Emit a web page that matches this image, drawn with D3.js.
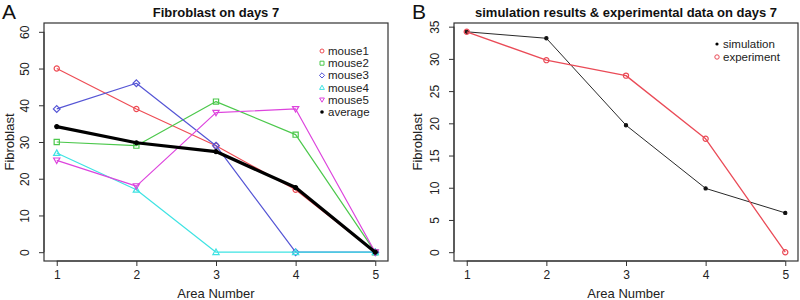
<!DOCTYPE html>
<html>
<head>
<meta charset="utf-8">
<script src="https://cdn.jsdelivr.net/npm/d3@7"></script>
<style>
  body { margin: 0; background: #fff; }
  svg { display: block; font-family: "Liberation Sans", Arial, sans-serif; }
</style>
</head>
<body>
<svg id="chart" width="800" height="300"></svg>
<script>
/* Two R-style panels: A = mouse counts per area, B = simulation vs experiment */
var areas = [1, 2, 3, 4, 5];

var mouse1 = [50, 39, 29, 17, 0];
var mouse2 = [30, 29, 41, 32, 0];
var mouse3 = [39, 46, 29, 0, 0];
var mouse4 = [27, 17, 0, 0, 0];
var mouse5 = [25, 18, 38, 39, 0];
var average = [34.2, 29.8, 27.4, 17.6, 0];

var simulation = [34.2, 33.2, 19.7, 9.9, 6.1];
var experiment = [34.2, 29.8, 27.4, 17.6, 0];

var ticksA = [0, 10, 20, 30, 40, 50, 60];
var ticksB = [0, 5, 10, 15, 20, 25, 30, 35];

var mice = [
  { name: 'mouse1', values: mouse1, color: '#ee4d55', shape: 'circle' },
  { name: 'mouse2', values: mouse2, color: '#4cc84c', shape: 'square' },
  { name: 'mouse3', values: mouse3, color: '#5555d5', shape: 'diamond' },
  { name: 'mouse4', values: mouse4, color: '#3fe3e3', shape: 'triUp' },
  { name: 'mouse5', values: mouse5, color: '#dd44dd', shape: 'triDown' }
];

var svg = d3.select('#chart');

// R pch-like symbol paths centred at 0,0
function symbolPath(shape, s) {
  s = s || 3;
  if (shape === 'circle') return 'M' + s + ',0A' + s + ',' + s + ' 0 1,1 ' + (-s) + ',0A' + s + ',' + s + ' 0 1,1 ' + s + ',0Z';
  if (shape === 'square') return 'M' + (-s) + ',' + (-s) + 'H' + s + 'V' + s + 'H' + (-s) + 'Z';
  if (shape === 'diamond') { var d = s * 1.3; return 'M0,' + (-d) + 'L' + d + ',0L0,' + d + 'L' + (-d) + ',0Z'; }
  if (shape === 'triUp') { var t = s * 1.2; return 'M0,' + (-t) + 'L' + t + ',' + (t * 0.75) + 'L' + (-t) + ',' + (t * 0.75) + 'Z'; }
  if (shape === 'triDown') { var u = s * 1.2; return 'M0,' + u + 'L' + u + ',' + (-u * 0.75) + 'L' + (-u) + ',' + (-u * 0.75) + 'Z'; }
  return '';
}

function drawPanel(opt) {
  var g = svg.append('g');
  var x = d3.scaleLinear().domain([0.84, 5.16]).range([opt.left, opt.right]);
  var yMax = opt.yMax, ext = yMax * 0.04;
  var y = d3.scaleLinear().domain([-ext, yMax + ext]).range([261, 23]);

  // box
  g.append('rect')
    .attr('x', opt.left).attr('y', 23)
    .attr('width', opt.right - opt.left).attr('height', 238)
    .attr('fill', 'none').attr('stroke', '#333').attr('stroke-width', 1.2);

  // x axis
  var xa = g.append('g').attr('transform', 'translate(0,261)')
    .call(d3.axisBottom(x).tickValues(areas).tickSize(5).tickPadding(4).tickFormat(d3.format('d')));
  xa.select('.domain').attr('d', 'M' + x(1) + ',0H' + x(5)).attr('stroke', '#333');
  xa.selectAll('line').attr('stroke', '#333');
  xa.selectAll('text').attr('font-size', 12).attr('fill', '#222')
    .attr('font-family', '"Liberation Sans", Arial, sans-serif');

  // y axis with rotated labels
  var ya = g.append('g').attr('transform', 'translate(' + opt.left + ',0)')
    .call(d3.axisLeft(y).tickValues(opt.ticks).tickSize(5).tickFormat(d3.format('d')));
  ya.select('.domain').attr('d', 'M0,' + y(0) + 'V' + y(opt.ticks[opt.ticks.length - 1])).attr('stroke', '#333');
  ya.selectAll('line').attr('stroke', '#333');
  ya.selectAll('text').attr('font-size', 12).attr('fill', '#222')
    .attr('font-family', '"Liberation Sans", Arial, sans-serif')
    .attr('x', null).attr('dy', null)
    .attr('text-anchor', 'middle')
    .attr('transform', 'translate(-15,0) rotate(-90)')
    .attr('y', 0);

  // titles
  g.append('text').attr('x', (opt.left + opt.right) / 2).attr('y', 17)
    .attr('text-anchor', 'middle').attr('font-size', 13).attr('font-weight', 'bold')
    .attr('fill', '#111').text(opt.title);
  g.append('text').attr('x', (opt.left + opt.right) / 2).attr('y', 298)
    .attr('text-anchor', 'middle').attr('font-size', 13).attr('fill', '#222').text('Area Number');
  g.append('text').attr('transform', 'translate(' + opt.ylabX + ',142) rotate(-90)')
    .attr('text-anchor', 'middle').attr('font-size', 13).attr('fill', '#222').text('Fibroblast');
  g.append('text').attr('x', opt.letterX).attr('y', 19)
    .attr('font-size', 21).attr('fill', '#111').text(opt.letter);

  return { g: g, x: x, y: y };
}

function drawSeries(p, values, color, width, shape, size, filled) {
  var line = d3.line().x(function (d, i) { return p.x(areas[i]); }).y(function (d) { return p.y(d); });
  p.g.append('path').datum(values).attr('d', line)
    .attr('fill', 'none').attr('stroke', color).attr('stroke-width', width)
    .attr('stroke-linejoin', 'round');
  p.g.selectAll(null).data(values).enter().append('path')
    .attr('transform', function (d, i) { return 'translate(' + p.x(areas[i]) + ',' + p.y(d) + ')'; })
    .attr('d', symbolPath(shape, size))
    .attr('fill', filled ? color : 'none')
    .attr('stroke', color).attr('stroke-width', 1.2);
}

/* ---- Panel A ---- */
var pA = drawPanel({ left: 44, right: 388, yMax: 60, ticks: ticksA,
  title: 'Fibroblast on days 7', ylabX: 14, letter: 'A', letterX: 2 });

mice.forEach(function (m) { drawSeries(pA, m.values, m.color, 1.2, m.shape, 2.6, false); });
drawSeries(pA, average, '#000', 3.2, 'circle', 2, true);

var legA = pA.g.append('g');
mice.concat([{ name: 'average', color: '#000', shape: 'dot' }]).forEach(function (m, i) {
  var yy = 51 + i * 12.2;
  if (m.shape === 'dot') {
    legA.append('circle').attr('cx', 322).attr('cy', yy).attr('r', 1.8).attr('fill', '#000');
  } else {
    legA.append('path').attr('transform', 'translate(322,' + yy + ')')
      .attr('d', symbolPath(m.shape, 2)).attr('fill', 'none')
      .attr('stroke', m.color).attr('stroke-width', 1);
  }
  legA.append('text').attr('x', 328).attr('y', yy + 4).attr('font-size', 11.5)
    .attr('fill', '#222').text(m.name);
});

/* ---- Panel B ---- */
var pB = drawPanel({ left: 454, right: 798, yMax: 34.2, ticks: ticksB,
  title: 'simulation results & experimental data on days 7', ylabX: 422, letter: 'B', letterX: 412 });

drawSeries(pB, simulation, '#111', 0.9, 'circle', 1.6, true);
drawSeries(pB, experiment, '#ea4b57', 1.3, 'circle', 2.6, false);

var legB = pB.g.append('g');
legB.append('circle').attr('cx', 717).attr('cy', 44).attr('r', 1.6).attr('fill', '#000');
legB.append('text').attr('x', 723).attr('y', 48).attr('font-size', 11.5).attr('fill', '#222').text('simulation');
legB.append('path').attr('transform', 'translate(717,57)').attr('d', symbolPath('circle', 2.2))
  .attr('fill', 'none').attr('stroke', '#ea4b57').attr('stroke-width', 1);
legB.append('text').attr('x', 723).attr('y', 61).attr('font-size', 11.5).attr('fill', '#222').text('experiment');
</script>
</body>
</html>
